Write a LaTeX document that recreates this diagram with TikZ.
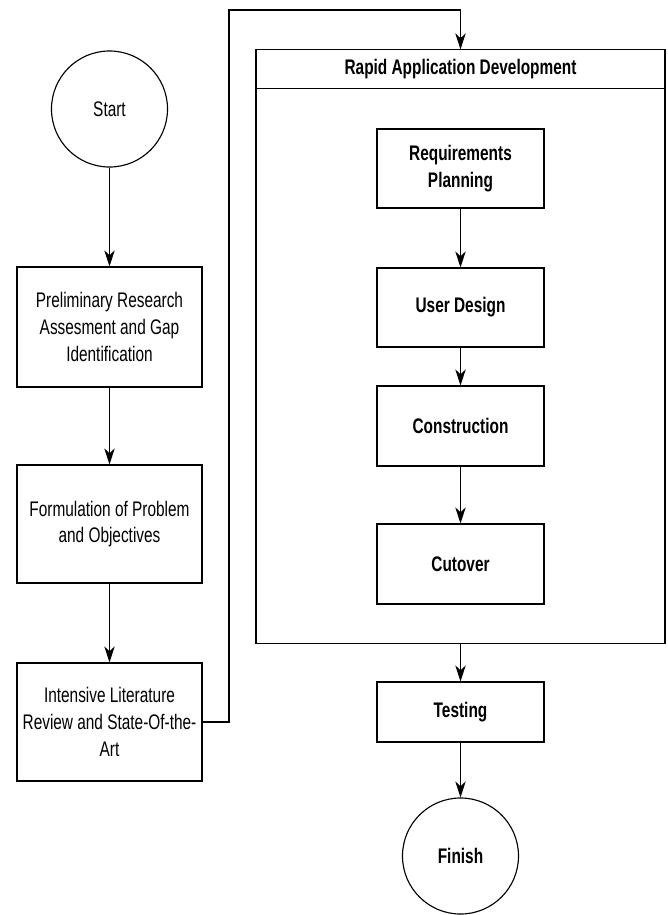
\documentclass[tikz,border=0pt]{standalone}
\usepackage{fontspec}
\setmainfont{Liberation Sans}[FakeStretch=0.73]
\usepackage{tikz}
\usetikzlibrary{arrows.meta}
\usetikzlibrary{shapes.geometric}

\begin{document}
\begin{tikzpicture}[x=0.025cm, y=-0.025cm,
	every node/.style={font=\fontsize{15}{19}\selectfont, align=center},
	stepbox/.style={draw, line width=0.8pt, rectangle, inner sep=0pt},
	endpoint/.style={draw, line width=0.8pt, circle, minimum size=2.9cm, inner sep=0pt},
	flow/.style={line width=0.8pt, -{Stealth[length=4mm, width=2.6mm, inset=1.2mm]}}]
	% page is 668 x 915 px, one unit = one px
	\useasboundingbox (0,0) rectangle (668,915);
	% left column - research steps
	\node[endpoint] (start) at (109.5,109) {Start};
	\node[stepbox, minimum width=4.625cm, minimum height=3cm] (prelim) at (109.5,327)
		{Preliminary Research\\Assesment and Gap\\Identification};
	\node[stepbox, minimum width=4.625cm, minimum height=2.95cm] (formul) at (109.5,524)
		{Formulation of Problem\\and Objectives};
	\node[stepbox, minimum width=4.625cm, minimum height=2.95cm] (review) at (109.5,722)
		{Intensive Literature\\Review and State-Of-the-\\Art};
	% rapid application development container
	\node[stepbox, minimum width=10.225cm, minimum height=14.825cm] (rad) at (460.5,346.5) {};
	\draw[line width=0.8pt] ([yshift=-0.975cm]rad.north west) -- ([yshift=-0.975cm]rad.north east);
	\node (radtitle) at (460.5,69.5) {\textbf{Rapid Application Development}};
	% RAD phases
	\node[stepbox, minimum width=4.175cm, minimum height=1.975cm] (req) at (460.5,168.5)
		{\textbf{Requirements}\\\textbf{Planning}};
	\node[stepbox, minimum width=4.175cm, minimum height=1.975cm] (design) at (460.5,307.5)
		{\textbf{User Design}};
	\node[stepbox, minimum width=4.175cm, minimum height=2cm] (constr) at (460.5,426)
		{\textbf{Construction}};
	\node[stepbox, minimum width=4.175cm, minimum height=2cm] (cutover) at (460.5,564)
		{\textbf{Cutover}};
	% after RAD
	\node[stepbox, minimum width=4.175cm, minimum height=1.5cm] (testing) at (460.5,712)
		{\textbf{Testing}};
	\node[endpoint] (finish) at (460.5,856) {\textbf{Finish}};
	% connectors
	\draw[flow] (start) -- (prelim);
	\draw[flow] (prelim) -- (formul);
	\draw[flow] (formul) -- (review);
	\coordinate (loopturn) at (229,10);
	\draw[flow] (review.east) -| (loopturn) -| (rad.north);
	\draw[flow] (req) -- (design);
	\draw[flow] (design) -- (constr);
	\draw[flow] (constr) -- (cutover);
	\draw[flow] (rad.south) -- (testing);
	\draw[flow] (testing) -- (finish);
\end{tikzpicture}
\end{document}
